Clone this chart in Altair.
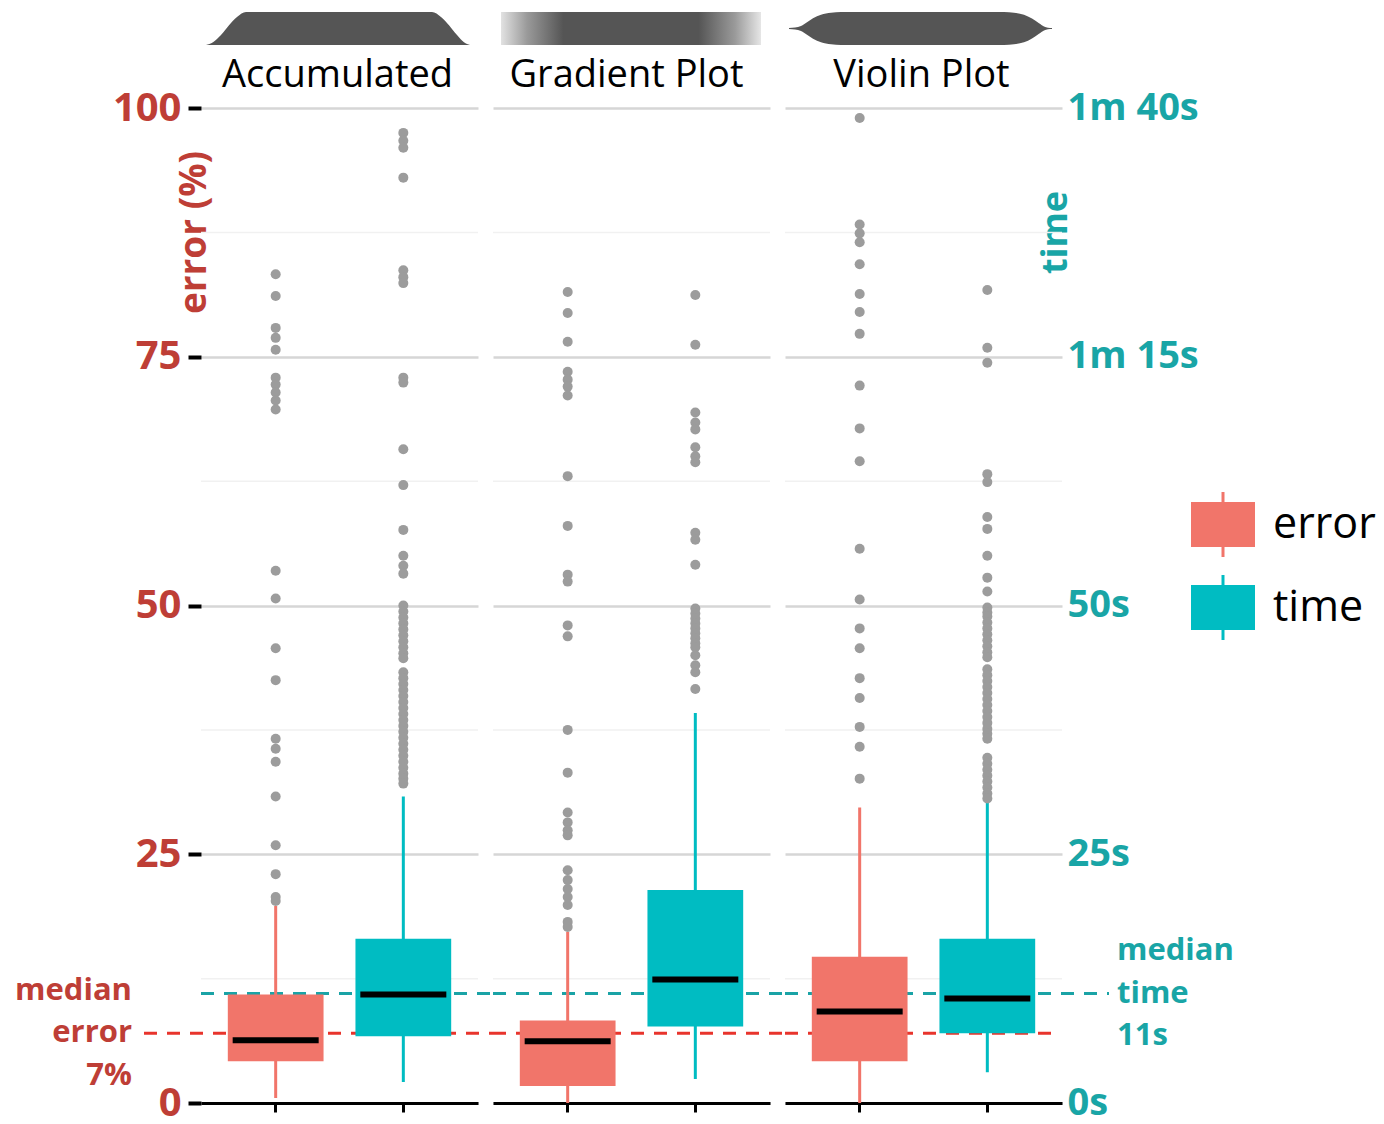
import altair as alt
import pandas as pd

# ---------------- data ----------------
methods = ["Accumulated", "Gradient Plot", "Violin Plot"]
measures = ["error", "time"]
measure_colors = ["#F1756A", "#00BCC2"]

# box statistics: lower whisker, Q1, median, Q3, upper whisker
acc_error_box = [0.5, 4.2, 6.3, 10.9, 19.8]
acc_time_box = [2.1, 6.7, 10.9, 16.5, 30.8]
grad_error_box = [0.0, 1.7, 6.2, 8.3, 17.2]
grad_time_box = [2.4, 7.7, 12.4, 21.4, 39.2]
vio_error_box = [0.0, 4.2, 9.2, 14.7, 29.7]
vio_time_box = [3.1, 7.0, 10.5, 16.5, 30.4]

# outliers
acc_error_out = [83.3, 81.1, 77.9, 76.9, 75.7, 72.9, 72.2, 71.4, 70.6, 69.7,
                 53.5, 50.7, 45.7, 42.5, 36.6, 35.6, 34.3, 30.8, 25.9, 23.0, 20.7, 20.3]
acc_time_out = [97.5, 96.7, 96.0, 93.0, 83.7, 83.0, 82.4, 72.9, 72.4, 65.7, 62.1, 57.6,
                55.0, 54.0, 53.2, 50.0, 49.4, 48.8, 48.2, 47.6, 47.0, 46.4, 45.8, 45.2, 44.7,
                43.3, 42.7, 42.1, 41.5, 40.9, 40.3, 39.7, 39.1, 38.5, 37.9, 37.3, 36.7,
                36.1, 35.5, 34.9, 34.3, 33.7, 33.1, 32.6, 32.1]
grad_error_out = [81.5, 79.4, 76.5, 73.5, 72.7, 72.0, 71.1, 63.0, 58.0, 53.1, 52.4, 48.0,
                  46.9, 37.5, 33.2, 29.2, 28.2, 27.4, 26.9, 23.4, 22.4, 21.5, 20.7, 19.9,
                  18.2, 17.7]
grad_time_out = [81.2, 76.2, 69.4, 68.4, 67.7, 65.9, 65.0, 64.4, 57.3, 56.6, 54.1,
                 49.7, 49.2, 48.7, 48.2, 47.7, 47.2, 46.7, 46.2, 45.8, 45.0, 44.0, 43.3, 41.6]
vio_error_out = [99.0, 88.3, 87.4, 86.5, 84.3, 81.3, 79.5, 77.3, 72.1, 67.8, 64.5, 55.7,
                 50.6, 47.7, 45.7, 42.7, 40.7, 37.8, 35.8, 32.6]
vio_time_out = [81.7, 75.9, 74.4, 63.2, 62.4, 58.9, 57.7, 55.0, 52.8, 51.4,
                49.8, 49.3, 48.9, 48.3, 47.7, 47.1, 46.5, 45.9, 45.3, 44.8,
                43.6, 43.0, 42.4, 41.8, 41.2, 40.6, 40.0, 39.4, 38.8, 38.2, 37.6, 37.1, 36.6,
                34.7, 34.1, 33.5, 32.9, 32.3, 31.7, 31.1, 30.6]

overall_median_error = 7
overall_median_time = 11

y_ticks = [0, 25, 50, 75, 100]
y_minor = [12.5, 37.5, 62.5, 87.5]

# header icon silhouettes (horizontal position within the panel, relative height)
acc_icon_x = [5, 12, 20, 28, 36, 45, 231, 240, 248, 256, 263, 269]
acc_icon_h = [0, 0.08, 0.3, 0.6, 0.85, 1, 1, 0.85, 0.6, 0.3, 0.08, 0]
grad_icon_x = [8, 268]
vio_icon_x = [4, 10, 16, 22, 28, 36, 46, 56, 219, 229, 239, 247, 254, 259, 263, 267]
vio_icon_h = [0.03, 0.06, 0.15, 0.38, 0.62, 0.84, 0.96, 1, 1, 0.96, 0.84, 0.6, 0.32, 0.12, 0.05, 0.03]

# ---------------- styling ----------------
W, H = 277, 995
FONT = "Open Sans"
RED_TXT = "#BE3E36"
TEAL_TXT = "#19A5A6"
RED_LINE = "#E8342C"
TEAL_LINE = "#1AA3A6"
ICON = "#555555"
POINT = "#9C9C9C"
ICON_RANGE = [-63, -96]
LINE_H = 42.5


def box_frame(err_box, time_box):
    return pd.DataFrame({
        "measure": measures,
        "lo": [err_box[0], time_box[0]],
        "q1": [err_box[1], time_box[1]],
        "median": [err_box[2], time_box[2]],
        "q3": [err_box[3], time_box[3]],
        "hi": [err_box[4], time_box[4]],
    })


def icon_chart(kind):
    xs = alt.Scale(domain=[0, W], nice=False, zero=False)
    if kind == "acc":
        df = pd.DataFrame({"px": acc_icon_x, "top": acc_icon_h, "bottom": [0] * len(acc_icon_h)})
        return alt.Chart(df).mark_area(color=ICON, interpolate="monotone").encode(
            x=alt.X("px:Q", scale=xs, axis=None),
            y=alt.Y("top:Q", scale=alt.Scale(domain=[0, 1], range=ICON_RANGE), axis=None),
            y2="bottom:Q",
        )
    if kind == "grad":
        df = pd.DataFrame({"x0": [grad_icon_x[0]], "x1": [grad_icon_x[1]], "y0": [0], "y1": [1]})
        grad = alt.Gradient(
            gradient="linear",
            stops=[
                alt.GradientStop(offset=0, color="#e2e2e2"),
                alt.GradientStop(offset=0.1, color="#9a9a9a"),
                alt.GradientStop(offset=0.24, color=ICON),
                alt.GradientStop(offset=0.76, color=ICON),
                alt.GradientStop(offset=0.9, color="#9a9a9a"),
                alt.GradientStop(offset=1, color="#e6e6e6"),
            ],
            x1=0, x2=1, y1=0, y2=0,
        )
        return alt.Chart(df).mark_rect(color=grad).encode(
            x=alt.X("x0:Q", scale=xs, axis=None),
            x2="x1:Q",
            y=alt.Y("y0:Q", scale=alt.Scale(domain=[0, 1], range=ICON_RANGE), axis=None),
            y2="y1:Q",
        )
    df = pd.DataFrame({"px": vio_icon_x, "top": vio_icon_h, "bottom": [-v for v in vio_icon_h]})
    return alt.Chart(df).mark_area(color=ICON, interpolate="monotone").encode(
        x=alt.X("px:Q", scale=xs, axis=None),
        y=alt.Y("top:Q", scale=alt.Scale(domain=[-1, 1], range=ICON_RANGE), axis=None),
        y2="bottom:Q",
    )


def make_panel(method, err_box, time_box, err_out, time_out, yaxis, red_span, teal_span, icon,
               title_dx=0, left_note=False, right_note=False):
    bdf = box_frame(err_box, time_box)
    odf = pd.DataFrame({"measure": ["error"] * len(err_out) + ["time"] * len(time_out),
                        "value": err_out + time_out})
    xs = alt.Scale(domain=measures, paddingInner=0.25, paddingOuter=0.21)
    ys = alt.Scale(domain=[0, 100], nice=False, zero=False, padding=0)
    xaxis = alt.Axis(labels=False, title=None, grid=False, domain=True, domainColor="black",
                     domainWidth=3, ticks=True, tickColor="black", tickWidth=3, tickSize=9)
    X = alt.X("measure:N", scale=xs, axis=xaxis)

    def Y(f):
        return alt.Y(f"{f}:Q", scale=ys, axis=yaxis)

    col = alt.Color("measure:N", scale=alt.Scale(domain=measures, range=measure_colors), legend=None)

    minor = alt.Chart(pd.DataFrame({"value": y_minor})).mark_rule(
        color="#f1f1f1", strokeWidth=1.5).encode(y=Y("value"))
    red = alt.Chart(pd.DataFrame({"value": [overall_median_error]})).mark_rule(
        color=RED_LINE, strokeWidth=3, strokeDash=[13, 10]).encode(
        y=Y("value"), x=alt.value(red_span[0]), x2=alt.value(red_span[1]))
    teal = alt.Chart(pd.DataFrame({"value": [overall_median_time]})).mark_rule(
        color=TEAL_LINE, strokeWidth=3, strokeDash=[13, 10]).encode(
        y=Y("value"), x=alt.value(teal_span[0]), x2=alt.value(teal_span[1]))
    whisk = alt.Chart(bdf).mark_rule(strokeWidth=3).encode(x=X, y=Y("lo"), y2="hi:Q", color=col)
    box = alt.Chart(bdf).mark_bar(opacity=1).encode(x=X, y=Y("q1"), y2="q3:Q", color=col)
    med = alt.Chart(bdf).mark_tick(color="black", thickness=6, size=86, opacity=1).encode(
        x=X, y=Y("median"))
    pts = alt.Chart(odf).mark_circle(color=POINT, size=100, opacity=1).encode(x=X, y=Y("value"))

    layers = [minor, red, teal, whisk, box, med, pts]
    if left_note:
        ndf = pd.DataFrame({"value": [overall_median_error],
                            "label": [f"median\nerror\n{overall_median_error}%"]})
        layers.append(alt.Chart(ndf).mark_text(
            align="right", baseline="middle", lineBreak="\n", lineHeight=LINE_H, dy=-LINE_H,
            font=FONT, fontSize=31, fontWeight="bold", color=RED_TXT).encode(
            y=Y("value"), x=alt.value(-69), text="label:N"))
    if right_note:
        ndf = pd.DataFrame({"value": [overall_median_time],
                            "label": [f"median\ntime\n{overall_median_time}s"]})
        layers.append(alt.Chart(ndf).mark_text(
            align="left", baseline="middle", lineBreak="\n", lineHeight=LINE_H, dy=-LINE_H,
            font=FONT, fontSize=31, fontWeight="bold", color=TEAL_TXT).encode(
            y=Y("value"), x=alt.value(W + 55), text="label:N"))
    main = alt.layer(*layers)

    title = alt.Chart(pd.DataFrame({"name": [method]})).mark_text(
        font=FONT, fontSize=38, color="black", align="center", baseline="middle",
        dx=title_dx).encode(
        text="name:N", x=alt.value(W / 2), y=alt.value(-32))

    return alt.layer(main, icon_chart(icon), title).resolve_scale(
        x="independent", y="independent").properties(width=W, height=H)


axis_left = alt.Axis(values=y_ticks, grid=True, gridColor="#d6d6d6", gridWidth=2.5, domain=False,
                     ticks=True, tickColor="black", tickWidth=4, tickSize=13,
                     labelFont=FONT, labelFontSize=40, labelFontWeight="bold", labelColor=RED_TXT,
                     labelPadding=7, title="error (%)", titleFont=FONT, titleFontSize=37,
                     titleFontWeight="bold", titleColor=RED_TXT, titleAngle=270, titleX=4,
                     titleY=124, titleAlign="center", titleBaseline="alphabetic")
axis_mid = alt.Axis(values=y_ticks, grid=True, gridColor="#d6d6d6", gridWidth=2.5, domain=False,
                    ticks=False, labels=False, title=None)
axis_right = alt.Axis(values=y_ticks, orient="right", grid=True, gridColor="#d6d6d6", gridWidth=2.5,
                      domain=False, ticks=False, labelFont=FONT, labelFontSize=38,
                      labelFontWeight="bold", labelColor=TEAL_TXT, labelPadding=5,
                      labelExpr="datum.value >= 60 ? '1m ' + (datum.value - 60) + 's' : datum.value + 's'",
                      title="time", titleFont=FONT, titleFontSize=36, titleFontWeight="bold",
                      titleColor=TEAL_TXT, titleAngle=270, titleX=4, titleY=124,
                      titleAlign="center", titleBaseline="alphabetic")

SP = 15
p1 = make_panel(methods[0], acc_error_box, acc_time_box, acc_error_out, acc_time_out,
                axis_left, (-57, W + SP), (0, W + SP), "acc", title_dx=-2, left_note=True)
p2 = make_panel(methods[1], grad_error_box, grad_time_box, grad_error_out, grad_time_out,
                axis_mid, (0, W + SP), (0, W + SP), "grad", title_dx=-5)
p3 = make_panel(methods[2], vio_error_box, vio_time_box, vio_error_out, vio_time_out,
                axis_right, (0, W - 8), (0, W + 47), "vio", title_dx=-2, right_note=True)

# legend drawn from the same colour scale
leg_df = pd.DataFrame({"measure": measures})
ly = alt.Y("measure:N", scale=alt.Scale(type="point", domain=measures, range=[416.5, 499.5], padding=0),
           axis=None)
lcol = alt.Color("measure:N", scale=alt.Scale(domain=measures, range=measure_colors), legend=None)
leg_whisk = alt.Chart(leg_df).mark_tick(orient="vertical", size=65, thickness=3, opacity=1).encode(
    x=alt.value(146), y=ly, color=lcol)
leg_box = alt.Chart(leg_df).mark_tick(orient="horizontal", size=64, thickness=45, opacity=1).encode(
    x=alt.value(146), y=ly, color=lcol)
leg_txt = alt.Chart(leg_df).mark_text(align="left", baseline="middle", font=FONT, fontSize=43,
                                      color="black").encode(x=alt.value(196), y=ly, text="measure:N")
legend = alt.layer(leg_whisk, leg_box, leg_txt).properties(width=285, height=H)

chart = alt.hconcat(p1, p2, p3, legend, spacing=SP, bounds="flush").properties(
    padding={"left": 7, "top": 4, "right": 0, "bottom": 0},
    background="white",
).configure(font=FONT).configure_view(strokeWidth=0)

chart.save("out.html", embed_options={"renderer": "svg", "actions": False})
